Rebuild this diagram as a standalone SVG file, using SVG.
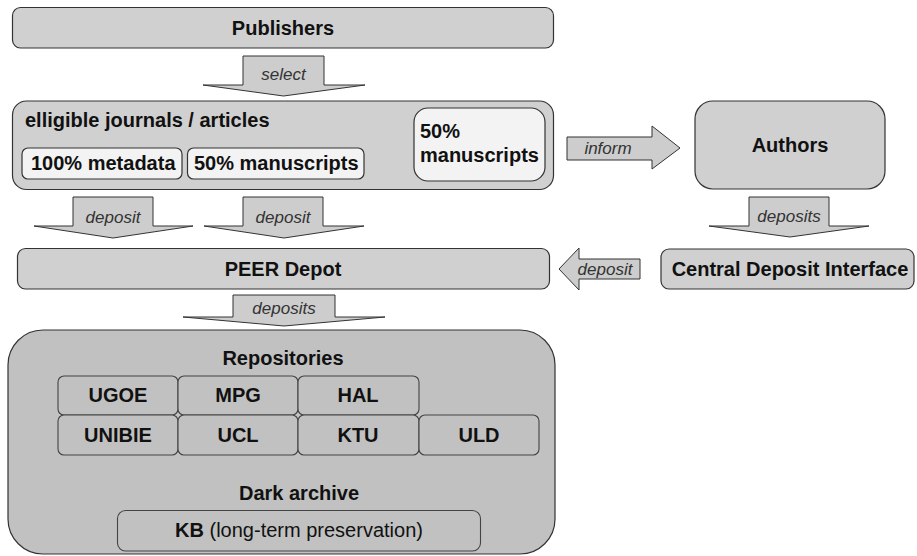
<svg xmlns="http://www.w3.org/2000/svg" width="917" height="556" viewBox="0 0 917 556">
<style>
.box{fill:#d0d0d0;stroke:#333;stroke-width:1.2}
.white{fill:#f3f3f3;stroke:#333;stroke-width:1.2}
.repo{fill:#c1c1c1;stroke:#333;stroke-width:1.2}
.cell{fill:#c1c1c1;stroke:#444;stroke-width:1.1}
.arr{fill:#cdcdcd;stroke:#333;stroke-width:1}
.t{font-family:"Liberation Sans",Arial,sans-serif;font-weight:bold;font-size:20px;fill:#111}
.c{text-anchor:middle}
.lbl{font-family:"Liberation Sans",Arial,sans-serif;font-style:italic;font-size:17px;fill:#333;text-anchor:middle}
</style>
<rect width="917" height="556" fill="#fff"/>
<g id="publishers">
<rect class="box" x="12.5" y="7.5" width="541" height="40.5" rx="8"/>
<text class="t c" x="283" y="35">Publishers</text>
</g>
<g id="elligible">
<rect class="box" x="12.5" y="101" width="541" height="88.5" rx="14"/>
<text class="t" x="25" y="127">elligible journals / articles</text>
<g id="metadata">
<rect class="white" x="22" y="148" width="160" height="31" rx="6"/>
<text class="t" x="31" y="170">100% metadata</text>
</g>
<g id="manuscripts1">
<rect class="white" x="187.5" y="148" width="176.5" height="31" rx="6"/>
<text class="t" x="194" y="170">50% manuscripts</text>
</g>
<g id="manuscripts2">
<rect class="white" x="414" y="108" width="131" height="73" rx="14"/>
<text class="t" x="420" y="138">50%</text>
<text class="t" x="420" y="162">manuscripts</text>
</g>
</g>
<g id="authors">
<rect class="box" x="695" y="101" width="190" height="88" rx="18"/>
<text class="t c" x="790" y="152">Authors</text>
</g>
<g id="peer">
<rect class="box" x="17.5" y="248.5" width="532" height="40.5" rx="8"/>
<text class="t c" x="283" y="276">PEER Depot</text>
</g>
<g id="central">
<rect class="box" x="661" y="249" width="253" height="40" rx="8"/>
<text class="t c" x="790" y="276">Central Deposit Interface</text>
</g>
<g id="repositories">
<rect class="repo" x="8" y="330" width="547" height="224" rx="35"/>
<text class="t c" x="283" y="365">Repositories</text>
<g id="UGOE"><rect class="cell" x="58" y="376" width="120" height="39" rx="6"/><text class="t c" x="118" y="402">UGOE</text></g>
<g id="MPG"><rect class="cell" x="178" y="376" width="120" height="39" rx="6"/><text class="t c" x="238" y="402">MPG</text></g>
<g id="HAL"><rect class="cell" x="298" y="376" width="121" height="39" rx="6"/><text class="t c" x="358" y="402">HAL</text></g>
<g id="UNIBIE"><rect class="cell" x="58" y="415" width="120" height="40" rx="6"/><text class="t c" x="118" y="442">UNIBIE</text></g>
<g id="UCL"><rect class="cell" x="178" y="415" width="120" height="40" rx="6"/><text class="t c" x="238" y="442">UCL</text></g>
<g id="KTU"><rect class="cell" x="298" y="415" width="121" height="40" rx="6"/><text class="t c" x="358" y="442">KTU</text></g>
<g id="ULD"><rect class="cell" x="419" y="415" width="120" height="40" rx="6"/><text class="t c" x="479" y="442">ULD</text></g>
<text class="t c" x="299" y="500">Dark archive</text>
<g id="KB"><rect class="cell" x="117.5" y="510.5" width="363" height="40.5" rx="8"/>
<text class="t c" x="299" y="537">KB<tspan font-weight="normal"> (long-term preservation)</tspan></text></g>
</g>
<g id="connectors">
<path class="arr" d="M243,56 H324 V85 H365 L283.5,96 L203,85 H243 Z"/>
<text class="lbl" x="283.5" y="80">select</text>
<path class="arr" d="M73,197 H153 V226 H193 L113,238 L34,226 H73 Z"/>
<text class="lbl" x="113" y="223">deposit</text>
<path class="arr" d="M243,197 H323 V226 H364 L284,238 L204,226 H243 Z"/>
<text class="lbl" x="283" y="223">deposit</text>
<path class="arr" d="M749,197 H829 V226 H869 L790,237 L709,226 H749 Z"/>
<text class="lbl" x="789" y="222">deposits</text>
<path class="arr" d="M233,295 H335 V317 H385 L284,326 L183,317 H233 Z"/>
<text class="lbl" x="284" y="314">deposits</text>
<path class="arr" d="M567,137 H652 V126 L680,148 L652,169 V160 H567 Z"/>
<text class="lbl" x="608" y="154">inform</text>
<path class="arr" d="M640,259 H579 V248 L559,269 L579,290 V279 H640 Z"/>
<text class="lbl" x="605" y="275">deposit</text>
</g>
</svg>
